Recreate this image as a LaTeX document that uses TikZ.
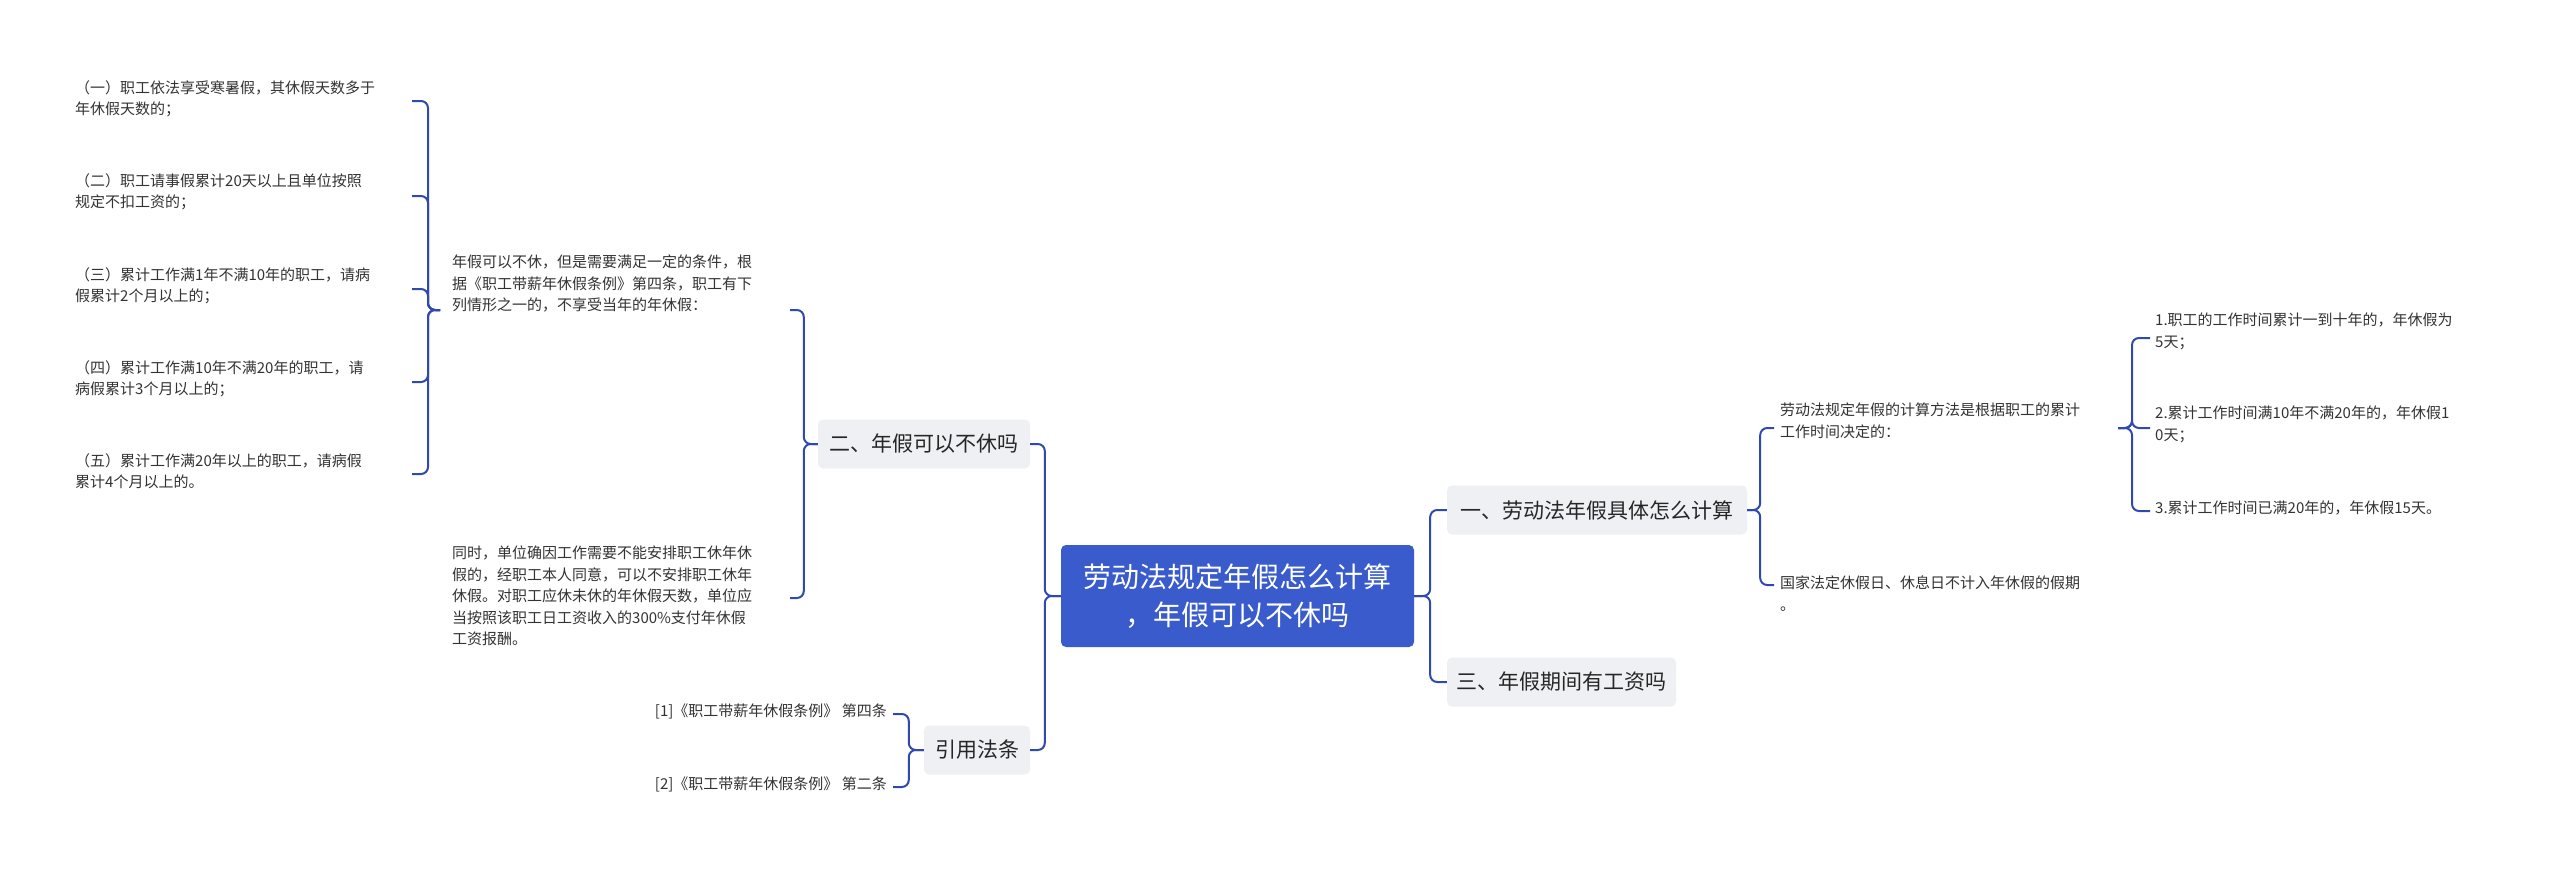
\documentclass[tikz,border=0pt]{standalone}
\usepackage{fontspec}
\newfontfamily\cjk{Noto Sans CJK SC}
\begin{document}
\begin{tikzpicture}[x=1pt,y=-1pt,
  ln/.style={draw=lineblue,line width=2pt,rounded corners=7pt},
  sm/.style={anchor=north west,align=left,inner sep=0pt,font={\cjk\fontsize{15}{21.5}\selectfont},text=black!80},
  br/.style={fill=boxgray,rounded corners=5pt,inner sep=0pt,font={\cjk\fontsize{21}{26}\selectfont},text=black!85}]
\definecolor{lineblue}{HTML}{3049B0}
\definecolor{boxgray}{HTML}{EEF0F3}
\definecolor{rootblue}{HTML}{3A5BCC}
\useasboundingbox (0,0) rectangle (2560,875);
\fill[white] (0,0) rectangle (2560,875);
% root
\node[fill=rootblue,rounded corners=5pt,minimum width=353pt,minimum height=102pt,align=center,text=white,font={\cjk\fontsize{28}{38}\selectfont}] (root) at (1237.5,596) {劳动法规定年假怎么计算\\，年假可以不休吗};
% branches
\node[br,minimum width=300pt,minimum height=49pt] (b1) at (1597,510) {一、劳动法年假具体怎么计算};
\node[br,minimum width=229pt,minimum height=49pt] (b3) at (1561.5,682) {三、年假期间有工资吗};
\node[br,minimum width=212pt,minimum height=49pt] (b2) at (924,444) {二、年假可以不休吗};
\node[br,minimum width=106pt,minimum height=49pt] (b4) at (977,750) {引用法条};
% right side texts
\node[sm] (r1) at (1780,403) {劳动法规定年假的计算方法是根据职工的累计\\工作时间决定的：};
\node[sm] (r2) at (1780,576) {国家法定休假日、休息日不计入年休假的假期\\。};
\node[sm] (r11) at (2155,313) {1.职工的工作时间累计一到十年的，年休假为\\5天；};
\node[sm] (r12) at (2155,406) {2.累计工作时间满10年不满20年的，年休假1\\0天；};
\node[sm] (r13) at (2155,501) {3.累计工作时间已满20年的，年休假15天。};
\coordinate (r1c) at (2118,428);
\coordinate (r1l) at (1774,428);
\coordinate (r2l) at (1774,585);
\coordinate (r11l) at (2150,338);
\coordinate (r12l) at (2150,428);
\coordinate (r13l) at (2150,511);
% left side texts
\node[sm] (l1) at (452,255) {年假可以不休，但是需要满足一定的条件，根\\据《职工带薪年休假条例》第四条，职工有下\\列情形之一的，不享受当年的年休假：};
\node[sm] (l2) at (452,546) {同时，单位确因工作需要不能安排职工休年休\\假的，经职工本人同意，可以不安排职工休年\\休假。对职工应休未休的年休假天数，单位应\\当按照该职工日工资收入的300\%支付年休假\\工资报酬。};
\coordinate (l1r) at (790,310);
\coordinate (l2r) at (790,598);
\coordinate (l1l) at (440,310);
\node[sm] (a1) at (75,80) {（一）职工依法享受寒暑假，其休假天数多于\\年休假天数的；};
\node[sm] (a2) at (75,173) {（二）职工请事假累计20天以上且单位按照\\规定不扣工资的；};
\node[sm] (a3) at (75,267) {（三）累计工作满1年不满10年的职工，请病\\假累计2个月以上的；};
\node[sm] (a4) at (75,360) {（四）累计工作满10年不满20年的职工，请\\病假累计3个月以上的；};
\node[sm] (a5) at (75,453) {（五）累计工作满20年以上的职工，请病假\\累计4个月以上的。};
\coordinate (a1r) at (412,101);
\coordinate (a2r) at (412,196);
\coordinate (a3r) at (412,289);
\coordinate (a4r) at (412,382);
\coordinate (a5r) at (412,474);
\node[sm,anchor=north east] (c1) at (887,704) {[1]《职工带薪年休假条例》 第四条};
\node[sm,anchor=north east] (c2) at (887,777) {[2]《职工带薪年休假条例》 第二条};
\coordinate (c1r) at (893,714);
\coordinate (c2r) at (893,787);
% connectors
\draw[ln] (root.east) -- ++(16,0) |- (b1.west);
\draw[ln] (root.east) -- ++(16,0) |- (b3.west);
\draw[ln] (root.west) -- ++(-16,0) |- (b2.east);
\draw[ln] (root.west) -- ++(-16,0) |- (b4.east);
\draw[ln] (b1.east) -- ++(13,0) |- (r1l);
\draw[ln] (b1.east) -- ++(13,0) |- (r2l);
\draw[ln] (r1c) -- ++(14,0) |- (r11l);
\draw[ln] (r1c) -- ++(14,0) |- (r12l);
\draw[ln] (r1c) -- ++(14,0) |- (r13l);
\draw[ln] (b2.west) -- ++(-14,0) |- (l1r);
\draw[ln] (b2.west) -- ++(-14,0) |- (l2r);
\draw[ln] (l1l) -- ++(-12,0) |- (a1r);
\draw[ln] (l1l) -- ++(-12,0) |- (a2r);
\draw[ln] (l1l) -- ++(-12,0) |- (a3r);
\draw[ln] (l1l) -- ++(-12,0) |- (a4r);
\draw[ln] (l1l) -- ++(-12,0) |- (a5r);
\draw[ln] (b4.west) -- ++(-15,0) |- (c1r);
\draw[ln] (b4.west) -- ++(-15,0) |- (c2r);
\end{tikzpicture}
\end{document}
